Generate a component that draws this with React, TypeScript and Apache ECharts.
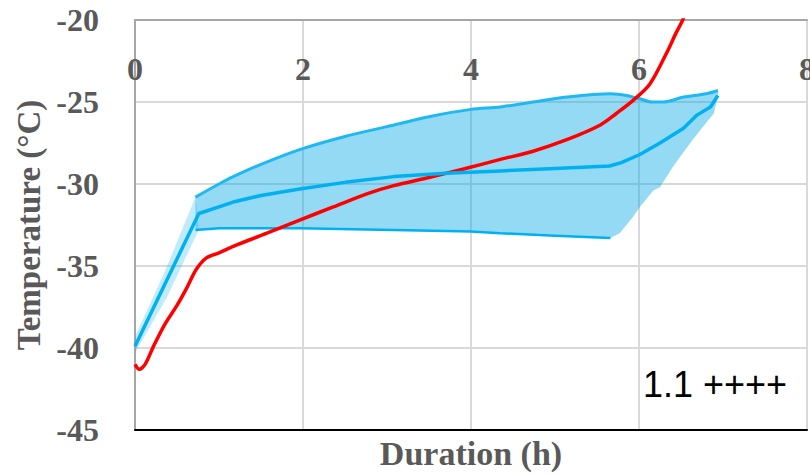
import React, { useEffect, useRef } from "react";
import * as echarts from "echarts";

const xTicks = [0, 2, 4, 6, 8];
const yTicks = [-45, -40, -35, -30, -25, -20];

const redTemp: number[][] = [
  [0, -41.0], [0.05, -41.3], [0.12, -41.0], [0.22, -39.9], [0.35, -38.6], [0.5, -37.4],
  [0.62, -36.3], [0.73, -35.2], [0.85, -34.5], [1.0, -34.2], [1.17, -33.8], [1.57, -33.0],
  [1.96, -32.2], [2.36, -31.4], [2.76, -30.6], [3.08, -30.1], [3.5, -29.6], [3.9, -29.1],
  [4.35, -28.5], [4.74, -28.0], [5.14, -27.3], [5.54, -26.4], [5.73, -25.7], [5.93, -24.9],
  [6.13, -23.9], [6.33, -22.0], [6.44, -20.8], [6.52, -20.0], [6.6, -18.8],
];

const meanTemp: number[][] = [
  [0, -39.9], [0.76, -31.8], [1.17, -31.1], [1.5, -30.7], [1.96, -30.3], [2.5, -29.9],
  [3.08, -29.55], [3.7, -29.35], [4.35, -29.2], [5.0, -29.05], [5.65, -28.9], [5.79, -28.7],
  [6.01, -28.2], [6.25, -27.5], [6.53, -26.6], [6.69, -25.8], [6.85, -25.3], [6.94, -24.6],
];

const upperBound: number[][] = [
  [0.72, -30.8], [1.0, -30.0], [1.17, -29.55], [1.5, -28.8], [1.96, -27.9], [2.5, -27.1],
  [3.0, -26.5], [3.5, -25.9], [4.0, -25.45], [4.35, -25.3], [4.74, -25.0], [5.14, -24.7],
  [5.66, -24.5], [5.85, -24.6], [6.01, -24.8], [6.15, -25.0], [6.29, -25.0], [6.53, -24.7],
  [6.8, -24.5], [6.94, -24.3],
];

const lowerBound: number[][] = [
  [0.72, -32.8], [1.0, -32.7], [1.96, -32.7], [3.08, -32.8], [4.0, -32.9], [4.35, -33.0],
  [5.0, -33.15], [5.66, -33.3], [5.77, -33.0], [5.93, -32.0], [6.01, -31.4], [6.17, -30.4],
  [6.25, -30.2], [6.41, -28.9], [6.61, -27.5], [6.73, -26.7], [6.89, -25.7], [6.94, -24.6],
];

const risingUpper: number[][] = [[0, -39.3], [0.35, -35.4], [0.72, -30.8]];
const risingLower: number[][] = [[0, -40.3], [0.38, -36.9], [0.76, -32.8]];

const lowerLineEnd = 5.7;

const serif = "Liberation Serif";
const gray = "#595959";

function bandSeries(upper: number[][], lower: number[][], color: string, z: number) {
  return {
    type: "custom",
    xAxisIndex: 0,
    yAxisIndex: 0,
    silent: true,
    z,
    data: [[upper[0][0], upper[0][1]]],
    renderItem: (_params: any, api: any) => {
      const pts = [
        ...upper.map((p) => api.coord(p)),
        ...lower.slice().reverse().map((p) => api.coord(p)),
      ];
      return { type: "polygon", shape: { points: pts }, style: { fill: color } };
    },
  };
}

export default function App() {
  const ref = useRef<HTMLDivElement>(null);
  useEffect(() => {
    if (!ref.current) return;
    const chart = echarts.init(ref.current, undefined, { renderer: "svg" });
    chart.setOption({
      animation: false,
      backgroundColor: "#ffffff",
      grid: { left: 135, right: 3, top: 20, bottom: 44, containLabel: false, outerBoundsMode: "none" },
      xAxis: [
        {
          type: "value",
          position: "top",
          min: 0,
          max: 8,
          interval: 2,
          axisLine: { show: true, onZero: false, lineStyle: { color: "#A6A6A6", width: 2 } },
          axisTick: { show: false },
          splitLine: { show: true, lineStyle: { color: "#D9D9D9", width: 2 } },
          axisLabel: {
            inside: true,
            margin: 33,
            color: gray,
            fontFamily: serif,
            fontWeight: "bold",
            fontSize: 32,
            alignMinLabel: "center",
            alignMaxLabel: "center",
            hideOverlap: false,
            formatter: (v: number) => (xTicks.includes(v) ? String(v) : ""),
          },
        },
        {
          type: "value",
          position: "bottom",
          min: 0,
          max: 8,
          interval: 2,
          axisLine: { show: true, onZero: false, lineStyle: { color: "#000000", width: 2 } },
          axisTick: { show: false },
          splitLine: { show: false },
          axisLabel: { show: false },
          name: "Duration (h)",
          nameLocation: "middle",
          nameGap: 6,
          nameTextStyle: { color: gray, fontFamily: serif, fontWeight: "bold", fontSize: 34 },
        },
      ],
      yAxis: {
        type: "value",
        min: -45,
        max: -20,
        interval: 5,
        axisLine: { show: true, lineStyle: { color: "#A6A6A6", width: 2 } },
        axisTick: { show: false },
        splitLine: { show: true, lineStyle: { color: "#D9D9D9", width: 2 } },
        axisLabel: {
          margin: 36,
          color: gray,
          fontFamily: serif,
          fontWeight: "bold",
          fontSize: 32,
          formatter: (v: number) => (yTicks.includes(v) ? String(v) : ""),
        },
        name: "Temperature (°C)",
        nameLocation: "middle",
        nameRotate: 90,
        nameGap: 90,
        nameTextStyle: { color: gray, fontFamily: serif, fontWeight: "bold", fontSize: 33 },
      },
      graphic: [
        {
          type: "text",
          left: 643,
          top: 366,
          style: {
            text: "1.1 ++++",
            fill: "#000000",
            fontFamily: "Arial",
            fontSize: 36,
          },
          z: 100,
        },
      ],
      series: [
        bandSeries(risingUpper, risingLower, "rgba(0,176,240,0.25)", 1),
        bandSeries(upperBound, lowerBound, "rgba(0,168,232,0.42)", 1),
        {
          type: "line",
          data: lowerBound.filter((p) => p[0] <= lowerLineEnd),
          showSymbol: false,
          symbol: "none",
          z: 2,
          lineStyle: { color: "#00B0F0", width: 2.5 },
        },
        {
          type: "line",
          data: upperBound,
          showSymbol: false,
          symbol: "none",
          smooth: 0.3,
          z: 2,
          lineStyle: { color: "#1FB8F0", width: 3 },
        },
        {
          type: "line",
          data: redTemp,
          showSymbol: false,
          symbol: "none",
          smooth: 0.3,
          z: 3,
          lineStyle: { color: "#FF0000", width: 3.5 },
        },
        {
          type: "line",
          data: meanTemp,
          showSymbol: false,
          symbol: "none",
          z: 4,
          lineStyle: { color: "#00B0F0", width: 3.5 },
        },
      ],
    });
    return () => chart.dispose();
  }, []);
  return <div ref={ref} style={{ width: 810, height: 474, position: "absolute", left: 0, top: 0 }} />;
}
